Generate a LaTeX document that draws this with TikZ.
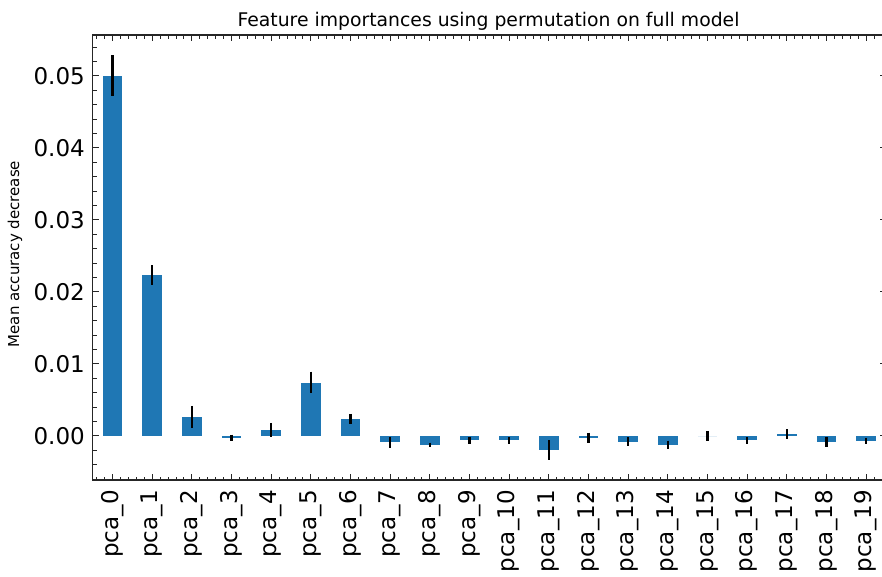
\documentclass[tikz,border=0pt]{standalone}
\usepackage{fontspec}
\setmainfont{DejaVu Sans}
\definecolor{barblue}{HTML}{1F77B4}
\begin{document}
\begin{tikzpicture}[x=1pt,y=-1pt]
\useasboundingbox (0,0) rectangle (882,576);
\clip (0,0) rectangle (882,576);
\def\xs{39.67}
\def\xo{112.4}
\def\yz{435.7}
\tikzset{
  bar/.style={fill=barblue},
  errbar/.style={line width=2.4pt, black},
  spine/.style={line width=1.2pt, black!85},
  majortick/.style={line width=0.9pt, black!85},
  minortick/.style={line width=0.7pt, black!85},
  ticklabel/.style={font=\fontsize{23}{27}\selectfont, inner sep=0pt}
}
% bars, error bars and x tick labels
\foreach \i/\h/\e in {0/360/20.3, 1/160.7/9.7, 2/19/10.8, 3/-2/3, 4/5.7/7.2,
  5/53.2/10.8, 6/16.7/5.2, 7/-6.6/5.8, 8/-9/2.2, 9/-4.6/3.7, 10/-4.6/3.3,
  11/-14.6/10, 12/-2.3/5.3, 13/-6/4.5, 14/-9/4.2, 15/0/4.8, 16/-4.6/3.3,
  17/1.4/5, 18/-6/5, 19/-5/2.8}{
  \pgfmathsetmacro\cx{\xo+\xs*\i}
  \fill[bar] (\cx-9.9,\yz) rectangle (\cx+9.9,\yz-\h);
  \draw[errbar] (\cx,\yz-\h-\e) -- (\cx,\yz-\h+\e);
  \node[ticklabel, rotate=90, anchor=east] (xl\i) at (\cx,490) {pca\_\i};
  \draw[majortick] (\cx,480) -- (\cx,474) (\cx,35) -- (\cx,41);
}
% x minor ticks
\foreach \i in {-1,...,19}{
  \foreach \k in {1,...,4}{
    \pgfmathsetmacro\mx{\xo+\xs*(\i+\k/5)}
    \ifdim\mx pt<886pt \ifdim\mx pt>92.6pt
      \draw[minortick] (\mx,480) -- (\mx,476.5) (\mx,35) -- (\mx,38.5);
    \fi\fi
  }
}
% y ticks
\foreach \m in {-3,...,27}{
  \pgfmathsetmacro\my{\yz-14.4*\m}
  \pgfmathtruncatemacro\r{mod(abs(\m),5)}
  \ifnum\r=0
    \draw[majortick] (92.6,\my) -- (99,\my) (886,\my) -- (879.6,\my);
  \else
    \draw[minortick] (92.6,\my) -- (96.5,\my) (886,\my) -- (882.1,\my);
  \fi
}
\foreach \m/\t in {0/0.00, 5/0.01, 10/0.02, 15/0.03, 20/0.04, 25/0.05}{
  \node[ticklabel, anchor=east] (yl\m) at (85,\yz-14.4*\m) {\t};
}
% spines
\draw[spine] (92.6,35) rectangle (886,480);
% title and y label
\node[font=\fontsize{18.8}{22}\selectfont, anchor=base] (title) at (488.5,26.7)
  {Feature importances using permutation on full model};
\node[font=\fontsize{15}{18}\selectfont, rotate=90] (ylab) at (15,254)
  {Mean accuracy decrease};
\end{tikzpicture}
\end{document}
